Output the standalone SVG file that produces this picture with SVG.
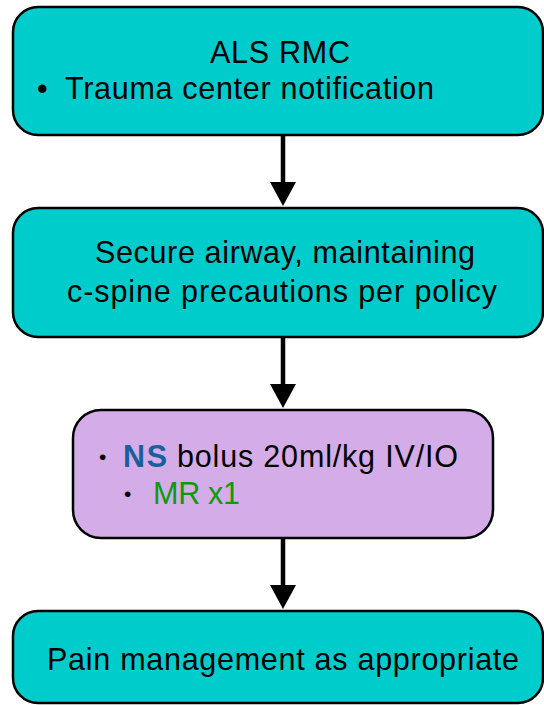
<svg xmlns="http://www.w3.org/2000/svg" width="544" height="705" viewBox="0 0 544 705">
  <style>
    .box { stroke: #000; stroke-width: 2.5; }
    .teal { fill: #00CCCC; }
    .purple { fill: #D4ADE8; }
    text { font-family: "Liberation Sans", Arial, Helvetica, sans-serif; font-size: 30.5px; fill: #000; }
    .conn { stroke: #000; stroke-width: 4.5; fill: none; }
    .small { font-size: 21px; }
  </style>
  <defs>
    <marker id="arrow" markerUnits="userSpaceOnUse" markerWidth="24" markerHeight="26" viewBox="0 0 24 26" refX="0" refY="13" orient="auto">
      <path d="M0,0 L24,13 L0,26 Z" fill="#000"/>
    </marker>
  </defs>

  <g id="node-als">
    <rect class="box teal" x="13" y="7" width="530" height="128" rx="25" ry="25"/>
    <text x="210" y="63" textLength="140" lengthAdjust="spacing">ALS RMC</text>
    <text x="37" y="99">•</text>
    <text x="65" y="99" textLength="369" lengthAdjust="spacing">Trauma center notification</text>
  </g>

  <g id="node-airway">
    <rect class="box teal" x="13" y="208" width="530" height="129" rx="25" ry="25"/>
    <text x="95" y="263" textLength="380" lengthAdjust="spacing">Secure airway, maintaining</text>
    <text x="67" y="302" textLength="430" lengthAdjust="spacing">c-spine precautions per policy</text>
  </g>

  <g id="node-ns">
    <rect class="box purple" x="73" y="410" width="420" height="128" rx="28" ry="28"/>
    <text class="small" x="99" y="464">•</text>
    <text x="123" y="467" textLength="44" lengthAdjust="spacing" font-weight="bold" style="fill:#1B5E9E">NS</text>
    <text x="177" y="467" textLength="281" lengthAdjust="spacing">bolus 20ml/kg IV/IO</text>
    <text class="small" x="124" y="501">•</text>
    <text x="153" y="504" textLength="87" lengthAdjust="spacing" style="fill:#0A9A0A">MR x1</text>
  </g>

  <g id="node-pain">
    <rect class="box teal" x="13" y="611" width="530" height="92" rx="25" ry="25"/>
    <text x="47" y="670" textLength="472" lengthAdjust="spacing">Pain management as appropriate</text>
  </g>

  <g id="connectors">
    <line class="conn" x1="283" y1="136" x2="283" y2="182" marker-end="url(#arrow)"/>
    <line class="conn" x1="283" y1="338" x2="283" y2="384" marker-end="url(#arrow)"/>
    <line class="conn" x1="283" y1="539" x2="283" y2="585" marker-end="url(#arrow)"/>
  </g>
</svg>
